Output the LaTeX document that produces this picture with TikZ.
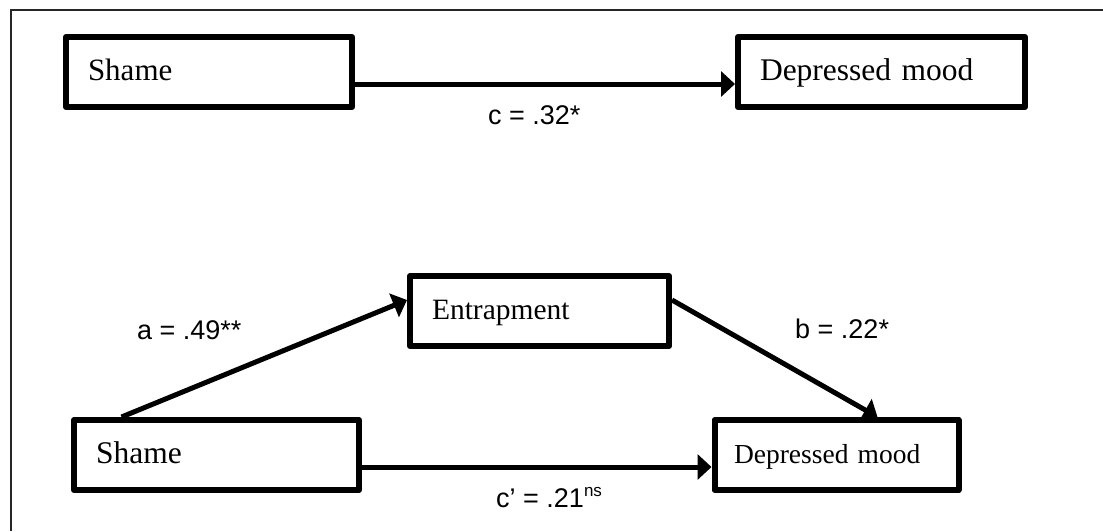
\documentclass[tikz,border=0pt]{standalone}
\usepackage{fontspec}
\setmainfont{Liberation Serif}
\newfontfamily\coeffont{Liberation Sans}
\usetikzlibrary{arrows.meta,backgrounds}
\begin{document}
\begin{tikzpicture}[x=1pt,y=-1pt,
  varbox/.style={draw=black, line width=6pt, line join=round, fill=white,
    minimum height=70pt, inner xsep=22pt, inner ysep=0pt,
    text height=24pt, text depth=8pt, align=left},
  link/.style={line width=5pt, -{Triangle[length=14pt,width=25pt]}},
  coef/.style={font=\coeffont\fontsize{27}{32}\selectfont, anchor=base west, inner sep=0pt}
]
\useasboundingbox (0,0) rectangle (1103,531);

% outer frame (only its top and left edges fall inside the page)
\draw[line width=1.5pt, black!85] (11,531) -- (11,10) -- (1103,10);

% total effect model
\node[varbox, text width=242pt, font=\fontsize{31}{36}\selectfont] (s1) at (209,72) {Shame};
\node[varbox, text width=243pt, font=\fontsize{31.5}{36}\selectfont] (d1) at (881.5,72) {Depressed mood};

% mediation model
\node[varbox, text width=215pt, font=\fontsize{29.5}{34}\selectfont] (en) at (539.5,311) {Entrapment};
\node[varbox, text width=241pt, font=\fontsize{31.5}{36}\selectfont] (s2) at (216.5,455) {Shame};
\node[varbox, text width=205pt, inner xsep=19.5pt, font=\fontsize{27.5}{32}\selectfont] (d2) at (836.5,455) {Depressed mood};

\begin{scope}[on background layer]
  \draw[link] ([yshift=-12pt]s1.east) -- ([yshift=-12pt]d1.west);
  \draw[link] ([xshift=-95pt]s2.north) -- ([yshift=11pt]en.west);
  \draw[link] ([yshift=11pt]en.east) -- ([xshift=41pt]d2.north);
  \draw[link] ([yshift=-12pt]s2.east) -- ([yshift=-12pt]d2.west);
\end{scope}

% path coefficients
\node[coef] (lc) at (488,124) {c = .32*};
\node[coef] (la) at (137,339) {a = .49**};
\node[coef] (lb) at (795,338) {b = .22*};
\node[coef] (lcp) at (496,507) {c’ = .21\raisebox{11pt}{\fontsize{17}{17}\selectfont ns}};
\end{tikzpicture}
\end{document}
